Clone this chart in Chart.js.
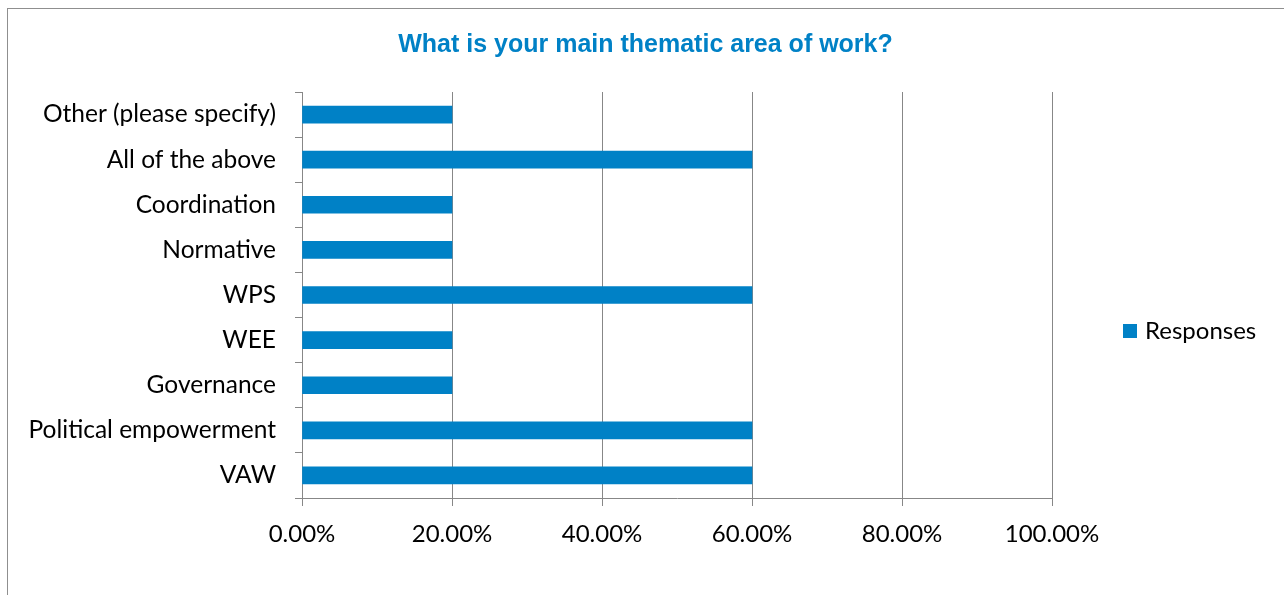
<!DOCTYPE html>
<html>
<head>
<meta charset="utf-8">
<script src="https://cdn.jsdelivr.net/npm/chart.js@4.4.1/dist/chart.umd.min.js"></script>
<style>
  html, body { margin: 0; padding: 0; background: #fff; }
  #wrap { width: 1284px; height: 595px; }
</style>
</head>
<body>
<div id="wrap"><canvas id="thematic-chart" width="1284" height="595"></canvas></div>
<script>
// survey answers, listed bottom-up as in the source sheet
var categories = ['VAW', 'Political empowerment', 'Governance', 'WEE', 'WPS',
  'Normative', 'Coordination', 'All of the above', 'Other (please specify)'];
var responses = [60, 60, 20, 20, 60, 20, 20, 60, 20];
var tickValues = [0, 20, 40, 60, 80, 100];

var $blue = '#0081C6',
    $grid = '#878787',
    $frame = '#8f8f8f',
    $black = '#000';

var labelFont = { family: 'Lato', size: 24 };
var categoryFont = { family: 'Lato', size: 24.5 };

// outer frame of the chart object
var framePlugin = {
  id: 'frame',
  beforeDraw: function (chart) {
    var ctx = chart.ctx;
    ctx.save();
    ctx.fillStyle = '#fff';
    ctx.fillRect(0, 0, chart.width, chart.height);
    ctx.strokeStyle = $frame;
    ctx.lineWidth = 1;
    ctx.strokeRect(7.5, 8.5, chart.width + 20, chart.height + 20);
    ctx.restore();
  }
};

// single-series legend sitting to the right of the plot
var sideLegend = {
  id: 'sideLegend',
  afterDraw: function (chart) {
    var ctx = chart.ctx;
    var ds = chart.data.datasets[0];
    var x = chart.chartArea.right + 71, y = 331;
    ctx.save();
    ctx.fillStyle = ds.backgroundColor;
    ctx.fillRect(x, y - 7, 14, 14);
    ctx.fillStyle = $black;
    ctx.font = labelFont.size + 'px ' + labelFont.family;
    ctx.textBaseline = 'middle';
    ctx.fillText(ds.label, x + 22, y);
    ctx.restore();
  }
};

var chartData = {
  labels: categories,
  datasets: [{
    label: 'Responses',
    data: responses,
    backgroundColor: $blue,
    barThickness: 17
  }]
};

var chartOptions = {
  indexAxis: 'y',
  responsive: false,
  animation: false,
  layout: { padding: { left: 7, right: 0, top: 0, bottom: 0 } },
  plugins: {
    legend: { display: false },
    tooltip: { enabled: false },
    title: {
      display: true,
      text: 'What is your main thematic area of work?',
      color: $blue,
      font: { family: 'Liberation Sans', size: 25, weight: 'bold' },
      padding: { top: 30, bottom: 32 }
    }
  },
  scales: {
    x: {
      min: 0,
      max: 100,
      afterBuildTicks: function (scale) {
        scale.ticks = tickValues.map(function (v) { return { value: v }; });
      },
      ticks: {
        color: $black,
        font: labelFont,
        padding: 14,
        callback: function (v) { return v.toFixed(2) + '%'; }
      },
      grid: { color: $grid, tickLength: 8 },
      border: { color: $grid },
      afterFit: function (scale) { scale.height = 97; }
    },
    y: {
      reverse: true,
      ticks: { color: $black, font: categoryFont, padding: 19 },
      grid: { drawOnChartArea: false, offset: true, tickLength: 7, color: $grid },
      border: { color: $grid },
      afterFit: function (scale) { scale.width = 295; }
    },
    // empty strip on the right that holds the legend
    side: {
      type: 'category',
      axis: 'y',
      position: 'right',
      grid: { display: false, drawTicks: false },
      border: { display: false },
      ticks: { display: false },
      afterFit: function (scale) { scale.width = 232; }
    }
  }
};

var thematicChart = new Chart(document.getElementById('thematic-chart'), {
  type: 'bar',
  data: chartData,
  options: chartOptions,
  plugins: [framePlugin, sideLegend]
});
</script>
</body>
</html>
